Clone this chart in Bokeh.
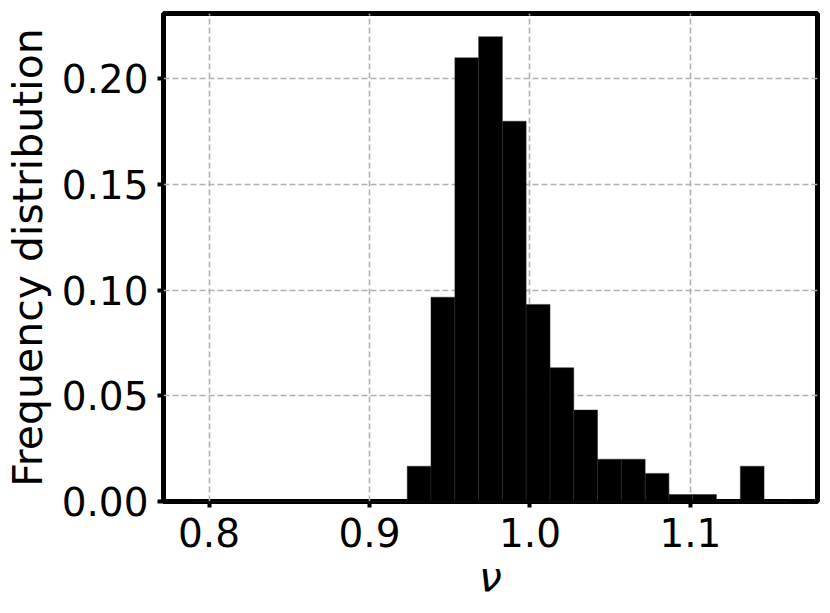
from bokeh.plotting import figure
from bokeh.models import Range1d, FixedTicker, NumeralTickFormatter
from bokeh.embed import file_html
from bokeh.resources import INLINE

# Histogram bin edges (nu) and frequency per bin
bin_edges = [0.7901, 0.8049, 0.8197, 0.8346, 0.8494, 0.8642, 0.8790, 0.8939,
             0.9087, 0.9235, 0.9383, 0.9532, 0.9680, 0.9828, 0.9976, 1.0125,
             1.0273, 1.0421, 1.0569, 1.0718, 1.0866, 1.1014, 1.1162, 1.1311,
             1.1459, 1.1607]
frequency = [0.0, 0.0, 0.0, 0.0, 0.0, 0.0, 0.0, 0.0, 0.0,
             0.0167, 0.0967, 0.2100, 0.2200, 0.1800, 0.0933, 0.0633,
             0.0433, 0.0200, 0.0200, 0.0133, 0.0033, 0.0033, 0.0, 0.0167, 0.0]
x_ticks = [0.8, 0.9, 1.0, 1.1]
y_ticks = [0.0, 0.05, 0.10, 0.15, 0.20]

p = figure(width=822, height=605, output_backend="svg", toolbar_location=None,
           x_range=Range1d(0.7716, 1.1792), y_range=Range1d(0.0, 0.231),
           min_border_left=162, min_border_right=5, min_border_top=13,
           min_border_bottom=104)

p.quad(left=bin_edges[:-1], right=bin_edges[1:], bottom=0, top=frequency,
       fill_color="black", line_color="#2a2a2a", line_width=0.5)

p.outline_line_color = "black"
p.outline_line_width = 5
p.background_fill_color = "white"
p.border_fill_color = "white"

for ax in (p.xaxis[0], p.yaxis[0]):
    ax.axis_line_color = None
    ax.major_tick_out = 6
    ax.major_tick_in = 0
    ax.minor_tick_line_color = None
    ax.major_tick_line_width = 4
    ax.major_tick_line_color = "black"
    ax.major_label_text_font = "DejaVu Sans"
    ax.major_label_text_font_size = "39px"
    ax.major_label_text_color = "black"
    ax.axis_label_text_font = "DejaVu Sans"
    ax.axis_label_text_font_size = "41px"
    ax.axis_label_text_font_style = "normal"
    ax.axis_label_text_color = "black"

p.xaxis.ticker = FixedTicker(ticks=x_ticks)
p.yaxis.ticker = FixedTicker(ticks=y_ticks)
p.xaxis.formatter = NumeralTickFormatter(format="0.0")
p.yaxis.formatter = NumeralTickFormatter(format="0.00")
p.xaxis.axis_label = "ν"
p.xaxis.axis_label_text_font_style = "italic"
p.yaxis.axis_label = "Frequency distribution"
p.xaxis.major_label_standoff = 10
p.yaxis.major_label_standoff = 9
p.xaxis.axis_label_standoff = 3
p.yaxis.axis_label_standoff = 7

for g in (p.xgrid[0], p.ygrid[0]):
    g.grid_line_color = "#b0b0b0"
    g.grid_line_width = 1.6
    g.grid_line_dash = "6 3"

open("out.html", "w").write(file_html(p, INLINE))
